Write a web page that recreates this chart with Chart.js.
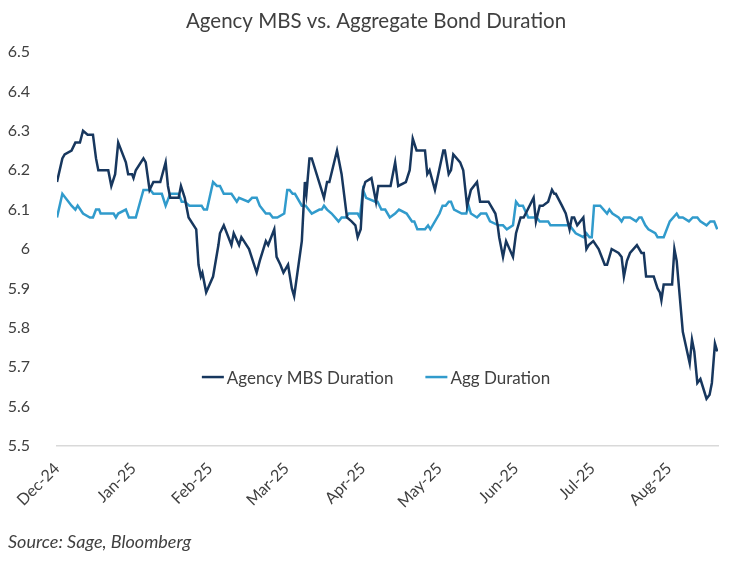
<!DOCTYPE html>
<html>
<head>
<meta charset="utf-8">
<script src="https://cdn.jsdelivr.net/npm/chart.js@4.4.1/dist/chart.umd.min.js"></script>
<style>
  html, body { margin: 0; padding: 0; background: #fff; }
  #wrap { width: 750px; height: 563px; }
</style>
</head>
<body>
<div id="wrap"><canvas id="durationChart" width="750" height="563"></canvas></div>
<script>
// Month labels sit at integer x positions (0 = Dec-24)
const monthLabels = ["Dec-24", "Jan-25", "Feb-25", "Mar-25", "Apr-25", "May-25", "Jun-25", "Jul-25", "Aug-25"];
const yTicks = [5.5, 5.6, 5.7, 5.8, 5.9, 6.0, 6.1, 6.2, 6.3, 6.4, 6.5];
const chartTitle = "Agency MBS vs. Aggregate Bond Duration";
const sourceText = "Source: Sage, Bloomberg";

// Agency MBS Duration (x = months since start of Dec-24)
const mbsX = [
  0.00,0.07,0.10,0.19,0.24,0.30,0.34,0.40,0.47,0.51,
  0.54,0.67,0.71,0.76,0.80,0.90,0.93,0.98,1.00,1.03,
  1.13,1.16,1.21,1.26,1.35,1.42,1.45,1.48,1.59,1.62,
  1.67,1.72,1.82,1.85,1.88,1.90,1.95,2.04,2.11,2.13,
  2.18,2.28,2.31,2.38,2.41,2.51,2.61,2.65,2.73,2.76,
  2.84,2.87,2.92,2.96,3.02,3.07,3.10,3.20,3.24,3.26,
  3.30,3.33,3.49,3.53,3.56,3.66,3.72,3.79,3.85,3.90,
  3.93,3.97,4.00,4.03,4.11,4.17,4.20,4.36,4.42,4.46,
  4.56,4.61,4.65,4.70,4.81,4.84,4.87,4.94,5.05,5.07,
  5.12,5.15,5.18,5.27,5.31,5.36,5.41,5.49,5.53,5.64,
  5.73,5.76,5.78,5.83,5.87,5.96,6.00,6.06,6.10,6.23,
  6.26,6.31,6.35,6.42,6.47,6.50,6.52,6.60,6.65,6.70,
  6.73,6.76,6.80,6.88,6.92,6.95,7.01,7.08,7.10,7.16,
  7.19,7.25,7.34,7.38,7.41,7.45,7.49,7.58,7.64,7.67,
  7.70,7.80,7.85,7.88,7.90,7.93,8.04,8.07,8.10,8.18,
  8.27,8.30,8.33,8.37,8.41,8.49,8.53,8.56,8.60,8.63
];
const mbsY = [
  6.17,6.23,6.24,6.25,6.27,6.27,6.30,6.29,6.29,6.23,
  6.20,6.20,6.16,6.19,6.27,6.22,6.19,6.19,6.18,6.20,
  6.23,6.22,6.15,6.17,6.17,6.22,6.16,6.13,6.13,6.16,
  6.13,6.08,6.05,5.96,5.93,5.94,5.89,5.93,6.01,6.04,
  6.06,6.01,6.04,6.01,6.03,6.00,5.94,5.97,6.02,6.01,
  6.05,5.98,5.96,5.94,5.96,5.90,5.88,6.02,6.17,6.14,
  6.23,6.23,6.13,6.17,6.17,6.25,6.19,6.08,6.07,6.06,
  6.03,6.05,6.15,6.17,6.18,6.12,6.16,6.16,6.22,6.16,
  6.17,6.20,6.28,6.25,6.25,6.19,6.20,6.15,6.25,6.25,
  6.19,6.20,6.24,6.22,6.20,6.11,6.15,6.17,6.12,6.12,
  6.09,6.06,6.03,5.98,6.02,5.98,6.04,6.08,6.08,6.13,
  6.07,6.11,6.11,6.12,6.15,6.14,6.14,6.11,6.09,6.05,
  6.08,6.08,6.06,6.08,6.00,6.01,6.02,6.00,5.99,5.96,
  5.96,6.00,5.99,5.98,5.93,5.97,5.99,6.01,5.99,5.99,
  5.93,5.93,5.90,5.89,5.87,5.91,5.91,6.00,5.97,5.79,
  5.71,5.77,5.74,5.66,5.67,5.62,5.63,5.66,5.76,5.74
];

// Agg Duration
const aggX = [
  0.00,0.07,0.19,0.24,0.27,0.34,0.43,0.47,0.51,0.55,
  0.57,0.74,0.77,0.80,0.90,0.94,1.03,1.13,1.22,1.26,
  1.37,1.42,1.48,1.59,1.63,1.67,1.73,1.89,1.92,1.96,
  2.04,2.09,2.13,2.18,2.28,2.35,2.38,2.50,2.55,2.61,
  2.65,2.73,2.78,2.82,2.88,2.97,3.01,3.04,3.08,3.11,
  3.20,3.25,3.33,3.43,3.46,3.49,3.53,3.59,3.68,3.72,
  3.78,3.81,3.93,3.96,4.00,4.04,4.16,4.19,4.24,4.29,
  4.35,4.42,4.47,4.57,4.64,4.67,4.71,4.81,4.85,4.88,
  5.00,5.04,5.08,5.12,5.15,5.19,5.29,5.35,5.38,5.41,
  5.49,5.54,5.61,5.66,5.77,5.83,5.88,5.96,6.00,6.04,
  6.09,6.16,6.21,6.27,6.31,6.42,6.45,6.70,6.78,6.88,
  6.92,6.96,6.99,7.02,7.10,7.19,7.22,7.26,7.34,7.38,
  7.41,7.49,7.57,7.61,7.64,7.69,7.73,7.82,7.85,7.93,
  8.01,8.10,8.13,8.18,8.26,8.31,8.37,8.41,8.49,8.54,
  8.59,8.63
];
const aggY = [
  6.08,6.14,6.11,6.10,6.11,6.09,6.08,6.08,6.10,6.10,
  6.09,6.09,6.08,6.09,6.10,6.08,6.08,6.15,6.15,6.14,
  6.14,6.11,6.14,6.14,6.12,6.12,6.11,6.11,6.10,6.10,
  6.17,6.16,6.16,6.14,6.14,6.12,6.13,6.12,6.13,6.13,
  6.11,6.09,6.09,6.08,6.08,6.09,6.15,6.15,6.14,6.14,
  6.11,6.11,6.09,6.10,6.10,6.11,6.10,6.09,6.07,6.08,
  6.08,6.09,6.09,6.08,6.15,6.13,6.12,6.12,6.10,6.10,
  6.08,6.09,6.10,6.09,6.07,6.07,6.05,6.05,6.06,6.05,
  6.09,6.11,6.11,6.12,6.12,6.10,6.09,6.09,6.11,6.09,
  6.08,6.09,6.09,6.07,6.06,6.06,6.05,6.06,6.12,6.11,
  6.11,6.08,6.08,6.08,6.07,6.07,6.06,6.06,6.04,6.03,
  6.04,6.03,6.03,6.11,6.11,6.09,6.10,6.09,6.08,6.07,
  6.08,6.08,6.07,6.08,6.08,6.06,6.05,6.04,6.03,6.03,
  6.07,6.09,6.08,6.08,6.07,6.08,6.08,6.07,6.06,6.07,
  6.07,6.05
];

const FONT = "Lato, 'Open Sans', sans-serif";
const TEXT_COLOR = "#404040";
const DARK = "#17375e";
const LIGHT = "#319bcc";

function toPoints(xs, ys) {
  return xs.map((x, i) => ({ x: x, y: ys[i] }));
}

// Title, source and legend are drawn by hand so they can sit where Excel put them
const chartText = {
  id: "chartText",
  afterDraw(chart) {
    const ctx = chart.ctx;
    ctx.save();
    ctx.fillStyle = TEXT_COLOR;
    ctx.textBaseline = "middle";

    // title
    ctx.font = "20.5px " + FONT;
    ctx.textAlign = "center";
    ctx.fillText(chartTitle, 376, 21);

    // source note
    ctx.font = "italic 18px " + FONT;
    ctx.textAlign = "left";
    ctx.fillText(sourceText, 8, 542);

    // legend inside the plot
    const sets = chart.data.datasets;
    const lineLen = 22, gapText = 3, gapItem = 32;
    ctx.font = "17px " + FONT;
    const widths = sets.map(ds => lineLen + gapText + ctx.measureText(ds.label).width);
    const total = widths.reduce((a, b) => a + b, 0) + gapItem * (sets.length - 1);
    let x = 376 - total / 2;
    const y = chart.scales.y.getPixelForValue(5.675);
    sets.forEach((ds, i) => {
      ctx.strokeStyle = ds.borderColor;
      ctx.lineWidth = 2.5;
      ctx.beginPath();
      ctx.moveTo(x, y);
      ctx.lineTo(x + lineLen, y);
      ctx.stroke();
      ctx.fillText(ds.label, x + lineLen + gapText, y + 1);
      x += widths[i] + gapItem;
    });
    ctx.restore();
  }
};

const ctx = document.getElementById("durationChart").getContext("2d");
new Chart(ctx, {
  type: "line",
  data: {
    datasets: [
      {
        label: "Agency MBS Duration",
        data: toPoints(mbsX, mbsY),
        borderColor: DARK,
        borderWidth: 2.5,
        pointRadius: 0,
        tension: 0
      },
      {
        label: "Agg Duration",
        data: toPoints(aggX, aggY),
        borderColor: LIGHT,
        borderWidth: 2.5,
        pointRadius: 0,
        tension: 0
      }
    ]
  },
  options: {
    responsive: false,
    animation: false,
    layout: { padding: { left: 0, right: 32, top: 52, bottom: 31 } },
    plugins: {
      legend: { display: false },
      tooltip: { enabled: false },
      title: { display: false }
    },
    scales: {
      x: {
        type: "linear",
        min: 0,
        max: 8.64,
        grid: { display: false },
        border: { display: true, color: "#d9d9d9", width: 1.5 },
        afterBuildTicks: scale => {
          scale.ticks = monthLabels.map((_, i) => ({ value: i }));
        },
        afterFit: scale => { scale.height = 86; },
        ticks: {
          autoSkip: false,
          minRotation: 45,
          maxRotation: 45,
          padding: 5,
          color: TEXT_COLOR,
          font: { family: FONT, size: 16 },
          callback: v => monthLabels[v]
        }
      },
      y: {
        min: 5.5,
        max: 6.5,
        grid: { display: false },
        border: { display: false },
        afterBuildTicks: scale => {
          scale.ticks = yTicks.map(v => ({ value: v }));
        },
        afterFit: scale => { scale.width = 57; },
        ticks: {
          padding: 19,
          color: TEXT_COLOR,
          font: { family: FONT, size: 16 },
          callback: v => String(Number(v.toFixed(1)))
        }
      }
    }
  },
  plugins: [chartText]
});
</script>
</body>
</html>
